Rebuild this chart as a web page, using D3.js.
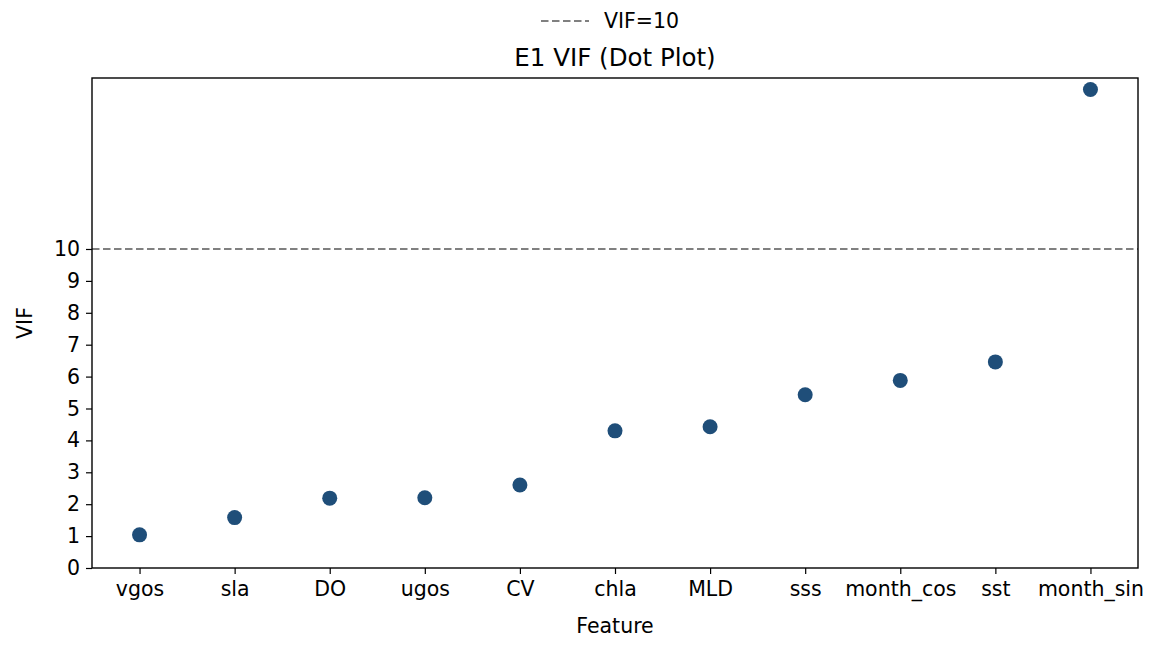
<!DOCTYPE html>
<html>
<head>
<meta charset="utf-8">
<script src="https://cdn.jsdelivr.net/npm/d3@7"></script>
<style>
body { margin: 0; background: #fff; }
text { font-family: "DejaVu Sans", sans-serif; }
</style>
</head>
<body>
<svg id="chart" width="1160" height="646"></svg>
<script>
var features = ["vgos", "sla", "DO", "ugos", "CV", "chla", "MLD", "sss", "month_cos", "sst", "month_sin"];
var vifValues = [1.04, 1.58, 2.19, 2.2, 2.6, 4.3, 4.43, 5.43, 5.88, 6.46, 15.0];
var yTicks = [0, 1, 2, 3, 4, 5, 6, 7, 8, 9, 10];
var threshold = 10;

var svg = d3.select("#chart");
var m = { left: 92, right: 1160 - 1138, top: 78, bottom: 646 - 568 };
var w = 1160 - m.left - m.right, h = 646 - m.top - m.bottom;
var g = svg.append("g").attr("transform", "translate(" + m.left + "," + m.top + ")");

var x = d3.scalePoint().domain(features).range([0, w]).padding(0.5);
var y = d3.scaleLinear().domain([0, 15.36]).range([h, 0]);

// threshold line
g.append("line")
    .attr("x1", 0).attr("x2", w)
    .attr("y1", y(threshold)).attr("y2", y(threshold))
    .attr("stroke", "#808080").attr("stroke-width", 2)
    .attr("stroke-dasharray", "7.5,3.5");

g.selectAll("circle").data(features).enter().append("circle")
    .attr("cx", function (d) { return x(d); })
    .attr("cy", function (d, i) { return y(vifValues[i]); })
    .attr("r", 7.5)
    .attr("fill", "#1f4e79");

var xAxis = g.append("g").attr("transform", "translate(0," + h + ")")
    .call(d3.axisBottom(x).tickSizeOuter(0).tickSize(6).tickPadding(7));
var yAxis = g.append("g")
    .call(d3.axisLeft(y).tickValues(yTicks).tickSizeOuter(0).tickSize(6).tickPadding(6));
[xAxis, yAxis].forEach(function (a) {
    a.select(".domain").remove();
    a.selectAll("text").attr("font-size", 20.5).attr("fill", "#000");
    a.selectAll("line").attr("stroke", "#000").attr("stroke-width", 1.2);
});

g.append("rect").attr("width", w).attr("height", h)
    .attr("fill", "none").attr("stroke", "#000").attr("stroke-width", 1.4);

svg.append("text").attr("x", m.left + w / 2).attr("y", 66)
    .attr("text-anchor", "middle").attr("font-size", 24.5).text("E1 VIF (Dot Plot)");
svg.append("text").attr("x", m.left + w / 2).attr("y", 633)
    .attr("text-anchor", "middle").attr("font-size", 20.5).text("Feature");
svg.append("text").attr("transform", "translate(32," + (m.top + h / 2) + ") rotate(-90)")
    .attr("text-anchor", "middle").attr("font-size", 20.5).text("VIF");

// legend
svg.append("line").attr("x1", 541).attr("x2", 589).attr("y1", 21).attr("y2", 21)
    .attr("stroke", "#808080").attr("stroke-width", 2).attr("stroke-dasharray", "7.5,3.5");
svg.append("text").attr("x", 604).attr("y", 28).attr("font-size", 20.5).text("VIF=10");
</script>
</body>
</html>
